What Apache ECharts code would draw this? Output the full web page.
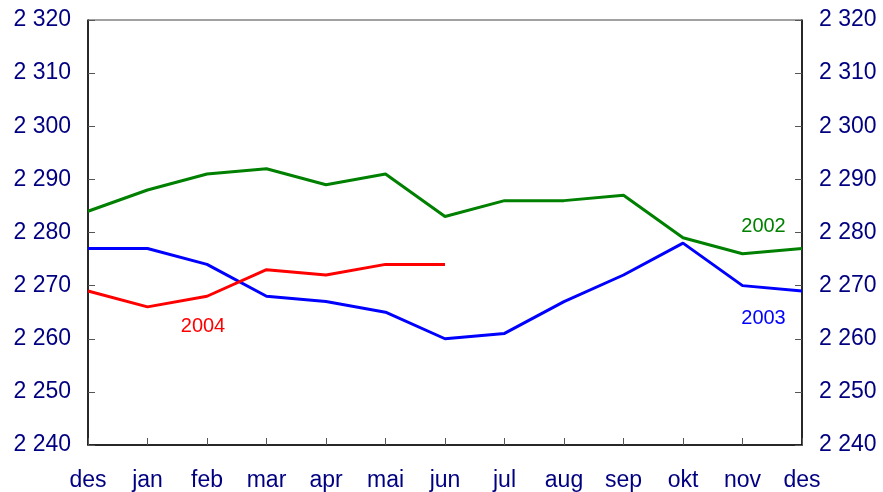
<!DOCTYPE html>
<html>
<head>
<meta charset="utf-8">
<script src="https://cdn.jsdelivr.net/npm/echarts@6/dist/echarts.min.js"></script>
<style>
  html, body { margin: 0; padding: 0; background: #fff; }
  #chart { width: 883px; height: 492px; }
</style>
</head>
<body>
<div id="chart"></div>
<script>
const months = ['des', 'jan', 'feb', 'mar', 'apr', 'mai', 'jun', 'jul', 'aug', 'sep', 'okt', 'nov', 'des']
const y2002 = [2284, 2288, 2291, 2292, 2289, 2291, 2283, 2286, 2286, 2287, 2279, 2276, 2277]
const y2003 = [2277, 2277, 2274, 2268, 2267, 2265, 2260, 2261, 2267, 2272, 2278, 2270, 2269]
const y2004 = [2269, 2266, 2268, 2273, 2272, 2274, 2274]

const navy = '#000080'
const font = 'Liberation Sans, Arial'
const fmt = v => String(v).replace(/\B(?=(\d{3})+(?!\d))/g, ' ')

function yAxis(pos) {
  return {
    type: 'value', position: pos, min: 2240, max: 2320, interval: 10,
    axisLine: { show: true, lineStyle: { color: '#000', width: 1.5 } },
    axisTick: { show: true, inside: true, length: 7, lineStyle: { color: '#555' } },
    axisLabel: { color: navy, fontSize: 23, fontFamily: font, margin: 17, formatter: fmt },
    splitLine: { show: false }
  }
}

// series name placed next to its line
function seriesLabel(name, color, coord, offset) {
  return {
    symbol: 'circle', symbolSize: 1,
    itemStyle: { color: 'rgba(0,0,0,0)' },
    label: { show: true, formatter: name, color: color, fontSize: 20, fontFamily: font, position: 'inside', offset: offset },
    data: [{ coord: coord }]
  }
}

const chart = echarts.init(document.getElementById('chart'), null, { renderer: 'canvas' })
chart.setOption({
  animation: false,
  grid: { left: 88, right: 81, top: 20, bottom: 47, show: true, borderColor: '#444', borderWidth: 1 },
  xAxis: {
    type: 'category', data: months, boundaryGap: false,
    axisLine: { lineStyle: { color: '#000', width: 1.5 } },
    axisTick: { show: true, inside: true, length: 7, lineStyle: { color: '#555' } },
    axisLabel: { color: navy, fontSize: 23, fontFamily: font, margin: 24, interval: 0 },
    splitLine: { show: false }
  },
  yAxis: [yAxis('left'), yAxis('right')],
  series: [
    {
      name: '2002', type: 'line', data: y2002, showSymbol: false,
      lineStyle: { color: '#008000', width: 3 }, itemStyle: { color: '#008000' },
      markPoint: seriesLabel('2002', '#008000', [11, 2281.2], [21, 0])
    },
    {
      name: '2003', type: 'line', data: y2003, showSymbol: false,
      lineStyle: { color: '#0000ff', width: 3 }, itemStyle: { color: '#0000ff' },
      markPoint: seriesLabel('2003', '#0000ff', [11, 2263.9], [21, 0])
    },
    {
      name: '2004', type: 'line', data: y2004, showSymbol: false,
      lineStyle: { color: '#ff0000', width: 3 }, itemStyle: { color: '#ff0000' },
      markPoint: seriesLabel('2004', '#ff0000', [2, 2262.4], [-4, 0])
    }
  ]
})
</script>
</body>
</html>
